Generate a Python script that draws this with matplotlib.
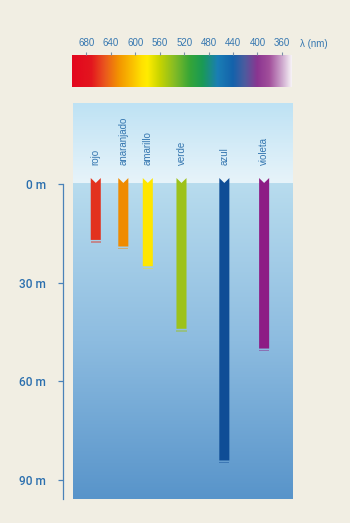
import matplotlib
matplotlib.use("Agg")
import matplotlib.pyplot as plt
import numpy as np
from matplotlib.colors import LinearSegmentedColormap
from matplotlib.patches import Polygon, Rectangle

# ---- data ----
colores = ["rojo", "anaranjado", "amarillo", "verde", "azul", "violeta"]
longitud_onda = [665, 620, 580, 525, 455, 390]       # nm, position of each bar
profundidad = [17, 19, 25, 44, 84, 50]                # m, penetration depth
bar_colors = ["#E2321E", "#EF8B00", "#FFE600", "#9DC21B", "#0F4D96", "#8D1C85"]
wl_ticks = [680, 640, 600, 560, 520, 480, 440, 400, 360]
depth_ticks = [0, 30, 60, 90]
depth_labels = ["0 m", "30 m", "60 m", "90 m"]

# spectrum colour stops (wavelength, colour)
spec_wl = [703, 672, 650, 627, 605, 590, 580, 560, 535, 510, 490, 465, 440, 420, 400, 380, 360, 344]
spec_col = ["#E3061E", "#E3161E", "#EA561E", "#F39400", "#FAC000", "#FFE000", "#FFEC00",
            "#C8D400", "#82BB26", "#35A538", "#1A9A55", "#1A7EB5", "#1462AB", "#4E5B9E",
            "#8B3590", "#A3509C", "#CDA6CD", "#F6F2F6"]

BG = "#F1EEE3"
TXT = "#3677B0"
W, H = 350, 523
WL_MIN, WL_MAX = 344, 703
TOP_D, BOT_D = -24.5, 95.8

plt.rcParams['font.family'] = ['Liberation Sans', 'DejaVu Sans']
fig = plt.figure(figsize=(W / 100, H / 100), dpi=100, facecolor=BG)


def ax_px(x0, y0, x1, y1):
    return fig.add_axes([x0 / W, 1 - y1 / H, (x1 - x0) / W, (y1 - y0) / H])


# ---- spectrum bar ----
axs = ax_px(72.3, 55, 291.7, 86.7)
t = (np.array(spec_wl) - WL_MAX) / (WL_MIN - WL_MAX)
cmap = LinearSegmentedColormap.from_list("spec", list(zip(t, spec_col)))
grad = np.linspace(0, 1, 512)[None, :]
axs.imshow(grad, cmap=cmap, aspect="auto", extent=[WL_MAX, WL_MIN, 0, 1])
axs.set_xlim(WL_MAX, WL_MIN)
axs.set_ylim(0, 1)
axs.xaxis.tick_top()
axs.set_xticks(wl_ticks)
axs.set_xticklabels([str(v) for v in wl_ticks])
axs.tick_params(axis="x", colors="#7A8FA6", labelcolor=TXT, labelsize=7, length=2.5,
                width=0.8, pad=2.6)
axs.set_yticks([])
for s in axs.spines.values():
    s.set_visible(False)
fig.text(300 / W, 1 - 44 / H, "λ (nm)", fontsize=7, color=TXT, ha="left", va="center")

# ---- water panel ----
ax = ax_px(72.5, 103.3, 292.3, 499.3)
ax.set_facecolor("#B5DAEE")
air_cmap = LinearSegmentedColormap.from_list("air", ["#BEE2F4", "#E8F4FA"])
water_cmap = LinearSegmentedColormap.from_list("water", ["#B8DCEE", "#8DBCE0", "#5894CA"])
g = np.linspace(0, 1, 256)[:, None]
ax.imshow(g, cmap=air_cmap, aspect="auto", extent=[WL_MAX, WL_MIN, 0, TOP_D], zorder=0)
ax.imshow(g, cmap=water_cmap, aspect="auto", extent=[WL_MAX, WL_MIN, BOT_D, 0], zorder=0)
ax.set_xlim(WL_MAX, WL_MIN)
ax.set_ylim(BOT_D, TOP_D)

hw = 8.2          # half width of each bar (nm)
top_c = -1.8      # depth of bar top corners
top_n = -0.3      # depth of the notch
for name, wl, d, col in zip(colores, longitud_onda, profundidad, bar_colors):
    poly = Polygon([(wl - hw, top_c), (wl, top_n), (wl + hw, top_c), (wl + hw, d), (wl - hw, d)],
                   closed=True, facecolor=col, edgecolor="none", zorder=3)
    ax.add_patch(poly)
    ax.add_patch(Rectangle((wl - hw, d + 0.45), 2 * hw, 0.45, facecolor=col, alpha=0.45,
                           edgecolor="none", zorder=3))
    ax.text(wl, -5.8, name, rotation=90, ha="center", va="bottom", fontsize=7, color=TXT,
            zorder=4)

for s in ["top", "right", "bottom"]:
    ax.spines[s].set_visible(False)
ax.spines["left"].set_position(("outward", 7.1))
ax.spines["left"].set_bounds(0, BOT_D)
ax.spines["left"].set_color("#4A82B8")
ax.spines["left"].set_linewidth(0.9)
ax.set_xticks([])
ax.set_yticks(depth_ticks)
ax.set_yticklabels(depth_labels)
ax.tick_params(axis="y", colors="#4A82B8", labelcolor="#2B6FAE", labelsize=8.6, length=3.6,
               width=0.9, pad=8.3)
for lbl in ax.get_yticklabels():
    lbl.set_family(["Roboto", "DejaVu Sans"])
    lbl.set_fontweight("medium")

fig.savefig("out.png", dpi=100, facecolor=BG)
